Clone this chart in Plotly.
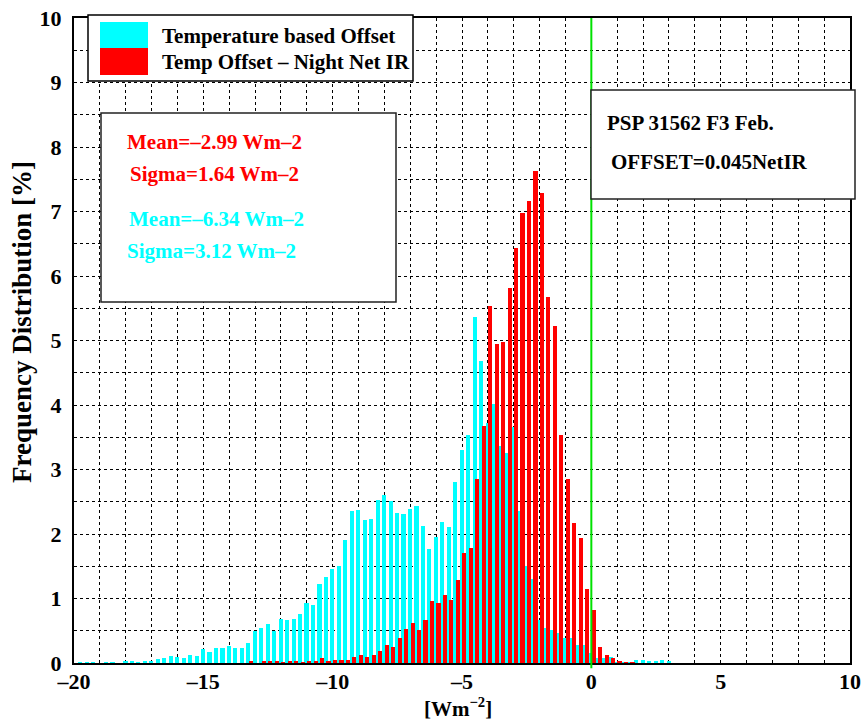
import plotly.graph_objects as go

# ---- data -------------------------------------------------------------
BIN_START = -20.0
BIN_WIDTH = 0.25

temp_based_offset = [
    0, 0.005, 0.005, 0.005, 0, 0.01, 0.005, 0, 0.03, 0.03,
    0.01, 0.02, 0.03, 0.06, 0.07, 0.11, 0.09, 0.08, 0.12, 0.11,
    0.22, 0.17, 0.23, 0.23, 0.26, 0.23, 0.23, 0.31, 0.50, 0.55,
    0.60, 0.50, 0.68, 0.67, 0.68, 0.76, 0.93, 0.90, 1.22, 1.33,
    1.46, 1.51, 1.90, 2.35, 2.37, 2.22, 2.24, 2.53, 2.60, 2.51,
    2.33, 2.31, 2.39, 2.43, 2.13, 1.77, 1.95, 2.18, 2.11, 2.80,
    3.30, 3.54, 5.36, 4.68, 3.72, 4.02, 3.37, 3.25, 3.66, 2.36,
    1.50, 1.31, 0.67, 0.54, 0.51, 0.47, 0.39, 0.39, 0.28, 0.28,
    0.16, 0.08, 0.08, 0.09, 0.01, 0.01, 0.01, 0.04, 0.04, 0.03,
    0.02, 0.04, 0.02,
]

night_net_ir_offset = [
    0, 0, 0, 0, 0, 0, 0, 0, 0, 0,
    0, 0, 0, 0, 0, 0, 0, 0, 0, 0,
    0, 0, 0, 0, 0, 0, 0, 0.02, 0.0, 0.02,
    0.02, 0.02, 0.01, 0.03, 0.02, 0.01, 0.02, 0.02, 0.07, 0.02,
    0.04, 0.04, 0.05, 0.09, 0.12, 0.09, 0.12, 0.18, 0.28, 0.25,
    0.39, 0.53, 0.62, 0.51, 0.67, 0.96, 0.93, 1.05, 0.97, 1.28,
    1.71, 1.79, 2.85, 3.67, 5.54, 4.94, 4.97, 5.81, 6.44, 6.97,
    7.17, 7.63, 7.29, 5.68, 5.22, 3.53, 2.85, 2.17, 1.94, 1.15,
    0.82, 0.25, 0.13, 0.08, 0.02, 0.01, 0.005, 0, 0, 0,
    0, 0, 0,
]

bin_low = [BIN_START + BIN_WIDTH * i for i in range(len(temp_based_offset))]

series_names = ["Temperature based Offset", "Temp Offset \u2013 Night Net IR"]
stats_red = ["Mean=\u20132.99 Wm\u20132", "Sigma=1.64 Wm\u20132"]
stats_cyan = ["Mean=\u20136.34 Wm\u20132", "Sigma=3.12 Wm\u20132"]
info_lines = ["PSP 31562 F3 Feb.", "OFFSET=0.045NetIR"]
x_ticks = [-20, -15, -10, -5, 0, 5, 10]
y_ticks = [0, 1, 2, 3, 4, 5, 6, 7, 8, 9, 10]

# ---- figure -----------------------------------------------------------
W, H = 865, 722
ML, MR, MT, MB = 74, 15, 18, 59
PW, PH = W - ML - MR, H - MT - MB
FONT = "Liberation Serif, Times New Roman, serif"
CYAN = "#00ffff"
RED = "#ff0000"


def px(x):
    return (x - ML) / PW


def py(y):
    return (H - MB - y) / PH


fig = go.Figure()
fig.add_trace(go.Bar(x=bin_low, y=temp_based_offset, name=series_names[0],
                     width=0.16, offset=-0.09, marker=dict(color=CYAN, line=dict(width=0))))
fig.add_trace(go.Bar(x=bin_low, y=night_net_ir_offset, name=series_names[1],
                     width=0.16, offset=0.01, marker=dict(color=RED, line=dict(width=0))))

shapes = []
annotations = []

# zero line
shapes.append(dict(type="line", xref="x", yref="paper", x0=0, x1=0, y0=-0.008, y1=1,
                   line=dict(color="rgb(0,225,0)", width=2), layer="above"))

# legend box
shapes.append(dict(type="rect", xref="paper", yref="paper", x0=px(88), x1=px(413),
                   y0=py(81), y1=py(15), fillcolor="white", line=dict(color="black", width=1.5),
                   layer="above"))
shapes.append(dict(type="rect", xref="paper", yref="paper", x0=px(100), x1=px(148),
                   y0=py(48), y1=py(22), fillcolor=CYAN, line=dict(width=0), layer="above"))
shapes.append(dict(type="rect", xref="paper", yref="paper", x0=px(100), x1=px(148),
                   y0=py(75), y1=py(48), fillcolor=RED, line=dict(width=0), layer="above"))
for name, yy in zip(series_names, [36, 62]):
    annotations.append(dict(xref="paper", yref="paper", x=px(160), y=py(yy), text="<b>%s</b>" % name,
                            showarrow=False, xanchor="left", yanchor="middle",
                            font=dict(family=FONT, size=21, color="black")))

# stats box
shapes.append(dict(type="rect", xref="paper", yref="paper", x0=px(101), x1=px(396),
                   y0=py(302), y1=py(113), fillcolor="white", line=dict(color="#222", width=1.5),
                   layer="above"))
for txt, yy, xx in zip(stats_red, [142, 174], [125, 128]):
    annotations.append(dict(xref="paper", yref="paper", x=px(xx), y=py(yy), text="<b>%s</b>" % txt,
                            showarrow=False, xanchor="left", yanchor="middle",
                            font=dict(family=FONT, size=21, color=RED)))
for txt, yy, xx in zip(stats_cyan, [219, 251], [127, 125]):
    annotations.append(dict(xref="paper", yref="paper", x=px(xx), y=py(yy), text="<b>%s</b>" % txt,
                            showarrow=False, xanchor="left", yanchor="middle",
                            font=dict(family=FONT, size=21, color=CYAN)))

# info box
shapes.append(dict(type="rect", xref="paper", yref="paper", x0=px(591), x1=px(855),
                   y0=py(199), y1=py(90), fillcolor="white", line=dict(color="#222", width=1.5),
                   layer="above"))
for txt, yy, xx in zip(info_lines, [123, 162], [605, 609]):
    annotations.append(dict(xref="paper", yref="paper", x=px(xx), y=py(yy), text="<b>%s</b>" % txt,
                            showarrow=False, xanchor="left", yanchor="middle",
                            font=dict(family=FONT, size=21, color="black")))

# axis titles
annotations.append(dict(xref="paper", yref="paper", x=px(458), y=py(707), text="<b>[Wm<sup>\u22122</sup>]</b>",
                        showarrow=False, xanchor="center", yanchor="middle",
                        font=dict(family=FONT, size=21, color="black")))
annotations.append(dict(xref="paper", yref="paper", x=px(22), y=py(322), text="<b>Frequency Distribution [%]</b>",
                        showarrow=False, xanchor="center", yanchor="middle", textangle=-90,
                        font=dict(family=FONT, size=27, color="black")))

GRID = dict(gridcolor="black", gridwidth=1, griddash="3px,3px")

fig.update_layout(
    width=W, height=H,
    margin=dict(l=ML, r=MR, t=MT, b=MB, autoexpand=False),
    paper_bgcolor="white", plot_bgcolor="white",
    barmode="overlay", bargap=0, showlegend=False,
    shapes=shapes, annotations=annotations,
    xaxis=dict(range=[-20, 10], tickvals=x_ticks, ticktext=["\u2013%d" % -v if v < 0 else str(v) for v in x_ticks],
               showgrid=True, **GRID,
               minor=dict(dtick=1, showgrid=True, **GRID),
               showline=True, linecolor="black", linewidth=2, mirror=True,
               ticks="", ticklabelstandoff=-2, zeroline=False, automargin=False,
               tickfont=dict(family=FONT, size=22, color="black", weight="bold")),
    yaxis=dict(range=[0, 10], tickvals=y_ticks, showgrid=True, **GRID,
               minor=dict(dtick=0.5, showgrid=True, **GRID),
               showline=True, linecolor="black", linewidth=2, mirror=True,
               ticks="", ticklabelstandoff=6, zeroline=False, automargin=False,
               tickfont=dict(family=FONT, size=22, color="black", weight="bold")),
)

fig.write_html("out.html", config={"displayModeBar": False},
               post_script="document.body.style.margin='0';document.body.style.overflow='hidden';")
